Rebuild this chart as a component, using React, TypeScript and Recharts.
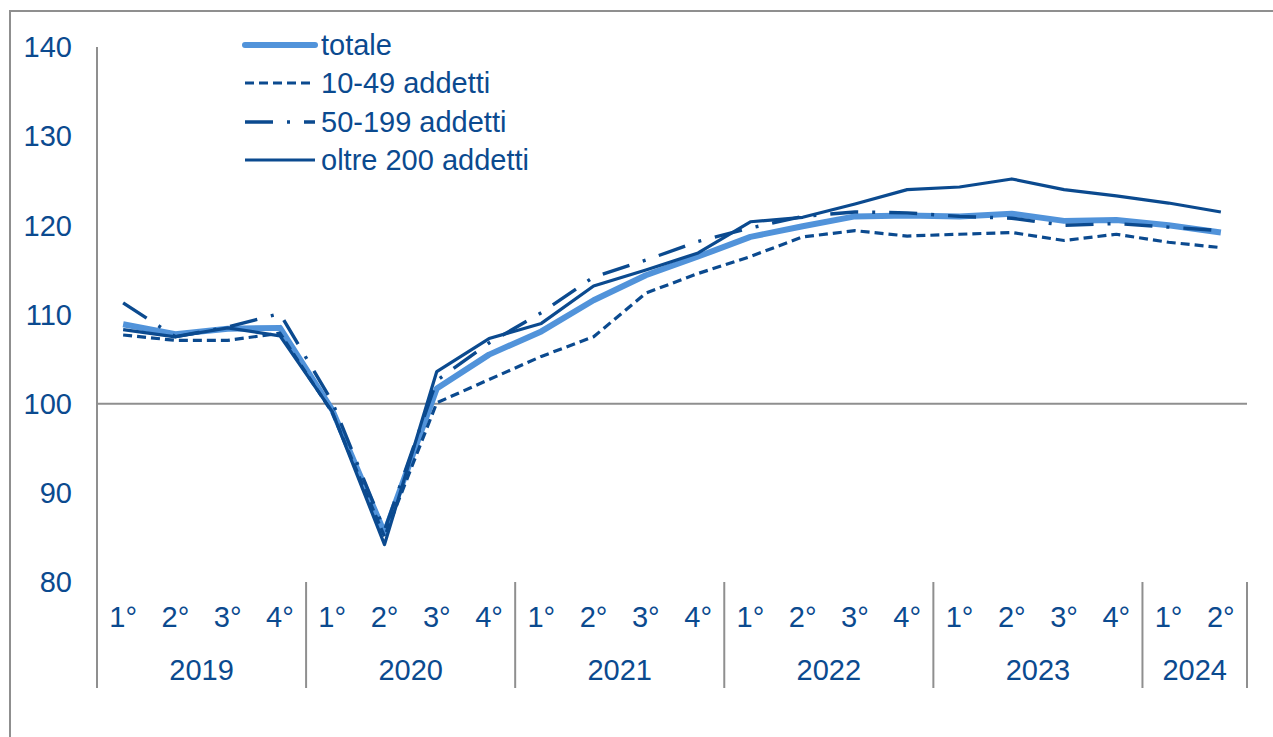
import React from "react";
import { LineChart, Line, XAxis, YAxis, ReferenceLine, Legend } from "recharts";

const quarters = ["1°", "2°", "3°", "4°", "1°", "2°", "3°", "4°", "1°", "2°", "3°", "4°", "1°", "2°", "3°", "4°", "1°", "2°", "3°", "4°", "1°", "2°"];
const years = ["2019", "2019", "2019", "2019", "2020", "2020", "2020", "2020", "2021", "2021", "2021", "2021", "2022", "2022", "2022", "2022", "2023", "2023", "2023", "2023", "2024", "2024"];
const totale = [108.9, 107.8, 108.4, 108.5, 99.3, 85.5, 101.7, 105.5, 108.1, 111.6, 114.4, 116.5, 118.7, 119.9, 121.0, 121.1, 121.0, 121.3, 120.5, 120.6, 120.0, 119.2];
const addetti10_49 = [107.7, 107.1, 107.1, 107.9, 99.0, 85.1, 100.1, 102.7, 105.3, 107.5, 112.4, 114.6, 116.5, 118.7, 119.4, 118.8, 119.0, 119.2, 118.3, 119.0, 118.1, 117.5];
const addetti50_199 = [111.3, 107.5, 108.6, 110.1, 100.2, 85.8, 102.6, 106.8, 110.2, 114.2, 116.1, 118.2, 119.7, 121.0, 121.5, 121.4, 121.0, 120.8, 120.0, 120.2, 119.8, 119.4];
const oltre200 = [108.3, 107.5, 108.5, 107.6, 99.1, 84.2, 103.6, 107.3, 109.0, 113.2, 115.0, 116.9, 120.4, 120.9, 122.4, 124.0, 124.3, 125.2, 124.0, 123.3, 122.5, 121.5];
const yTicks = [80, 90, 100, 110, 120, 130, 140];

const seriesNames = {
  totale: "totale",
  a10: "10-49 addetti",
  a50: "50-199 addetti",
  o200: "oltre 200 addetti",
};

const data = quarters.map((q, i) => ({
  period: years[i] + "-" + (i % 4),
  totale: totale[i],
  a10: addetti10_49[i],
  a50: addetti50_199[i],
  o200: oltre200[i],
}));

const DARK = "#0B4A8F";
const LIGHT = "#5193DA";
const GRAY = "#8f8f8f";
const FONT = "'Liberation Sans', Arial, sans-serif";
const FS = 29;

const styles: Record<string, { stroke: string; width: number; dash?: string }> = {
  totale: { stroke: LIGHT, width: 6 },
  a10: { stroke: DARK, width: 3.2, dash: "9 5" },
  a50: { stroke: DARK, width: 3.4, dash: "28 14 3 14" },
  o200: { stroke: DARK, width: 3.2 },
};

const XTick = (props: any) => {
  const { x, y, payload, index } = props;
  const i = typeof index === "number" ? index : payload.index;
  const off = payload && typeof payload.offset === "number" && payload.offset > 0 ? payload.offset : 26.14;
  const isStart = i === 0 || years[i] !== years[i - 1];
  const isLast = i === quarters.length - 1;
  const n = years.filter((yy) => yy === years[i]).length;
  return (
    <g>
      <text x={x} y={y + 45} textAnchor="middle" fill={DARK} fontSize={FS} fontFamily={FONT}>
        {quarters[i]}
      </text>
      {isStart && (
        <line x1={x - off} x2={x - off} y1={y} y2={y + 106} stroke={GRAY} strokeWidth={2} />
      )}
      {isStart && (
        <text x={x - off + n * off} y={y + 98} textAnchor="middle" fill={DARK} fontSize={FS} fontFamily={FONT}>
          {years[i]}
        </text>
      )}
      {isLast && (
        <line x1={x + off} x2={x + off} y1={y} y2={y + 106} stroke={GRAY} strokeWidth={2} />
      )}
    </g>
  );
};

const LegendContent = () => {
  const keys = ["totale", "a10", "a50", "o200"];
  const rowY = [25, 63, 102, 140];
  return (
    <svg width={330} height={165} style={{ display: "block" }}>
      {keys.map((k, i) => (
        <g key={k}>
          <line
            x1={5}
            x2={75}
            y1={rowY[i]}
            y2={rowY[i]}
            stroke={styles[k].stroke}
            strokeWidth={styles[k].width}
            strokeDasharray={k === "a50" ? "28 14 3 14" : k === "a10" ? "9 5" : undefined}
            strokeLinecap={k === "totale" ? "round" : "butt"}
          />
          <text x={81} y={rowY[i]} dy="0.355em" fill={DARK} fontSize={FS} fontFamily={FONT}>
            {(seriesNames as any)[k]}
          </text>
        </g>
      ))}
    </svg>
  );
};

export default function App() {
  return (
    <div style={{ position: "absolute", left: 0, top: 0, width: 1273, height: 737, overflow: "hidden", background: "#fff" }}>
      <div
        style={{
          position: "absolute",
          left: 9,
          top: 10,
          width: 1264,
          height: 727,
          borderLeft: `2px solid ${GRAY}`,
          borderTop: `2px solid ${GRAY}`,
          boxSizing: "border-box",
        }}
      />
      <div style={{ position: "absolute", left: 0, top: 0 }}>
        <LineChart width={1273} height={737} data={data} margin={{ top: 47, right: 26, bottom: 49, left: 37 }}>
          <XAxis
            dataKey="period"
            scale="band"
            interval={0}
            height={106}
            axisLine={false}
            tickLine={false}
            tickSize={0}
            tickMargin={0}
            tick={<XTick />}
          />
          <YAxis
            domain={[80, 140]}
            ticks={yTicks}
            width={60}
            axisLine={{ stroke: GRAY, strokeWidth: 2 }}
            tickLine={false}
            tickSize={0}
            tickMargin={25}
            tick={{ fill: DARK, fontSize: FS, fontFamily: FONT }}
          />
          <ReferenceLine y={100} stroke={GRAY} strokeWidth={2} />
          <Legend
            layout="horizontal"
            verticalAlign="middle"
            align="center"
            content={<LegendContent />}
            wrapperStyle={{ left: 240, top: 20, width: 330, height: 165 }}
          />
          <Line type="linear" dataKey="totale" name={seriesNames.totale} stroke={LIGHT} strokeWidth={6} dot={false} activeDot={false} isAnimationActive={false} strokeLinejoin="round" />
          <Line type="linear" dataKey="a10" name={seriesNames.a10} stroke={DARK} strokeWidth={3.2} strokeDasharray="9 5" dot={false} activeDot={false} isAnimationActive={false} />
          <Line type="linear" dataKey="a50" name={seriesNames.a50} stroke={DARK} strokeWidth={3.4} strokeDasharray="28 14 3 14" dot={false} activeDot={false} isAnimationActive={false} />
          <Line type="linear" dataKey="o200" name={seriesNames.o200} stroke={DARK} strokeWidth={3.2} dot={false} activeDot={false} isAnimationActive={false} strokeLinejoin="round" />
        </LineChart>
      </div>
    </div>
  );
}
